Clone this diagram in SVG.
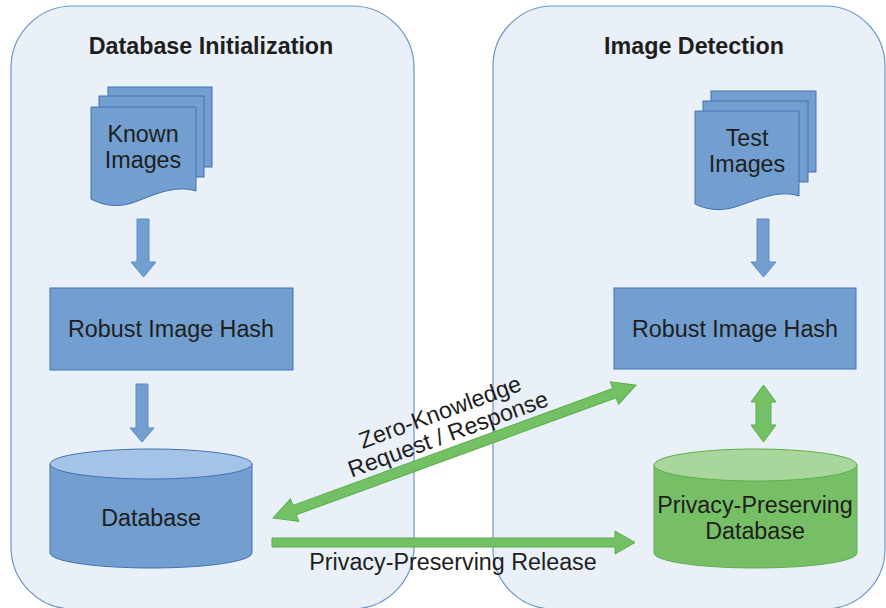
<svg xmlns="http://www.w3.org/2000/svg" width="886" height="608" viewBox="0 0 886 608">
<defs>
<style>
.panel{fill:#eaf0f7;stroke:#6a96cc;stroke-width:1.2}
.title{font-family:"Liberation Sans",Arial,sans-serif;font-size:23.3px;font-weight:bold;fill:#1e1e1e;text-anchor:middle}
.lbl{font-family:"Liberation Sans",Arial,sans-serif;font-size:23.3px;fill:#1e1e1e;text-anchor:middle}
.blue{fill:#729fcf;stroke:#3f72b4;stroke-width:1}
.bluetop{fill:#a5c3e6;stroke:#3f72b4;stroke-width:1}
.green{fill:#77bf66;stroke:#5caf4b;stroke-width:1}
.greentop{fill:#a9d69b;stroke:#5caf4b;stroke-width:1}
.barrow{fill:#729fcf;stroke:#5b8cc6;stroke-width:1}
.garrow{fill:#74c064;stroke:#5aae4a;stroke-width:1}
</style>
</defs>
<rect width="886" height="608" fill="#ffffff"/>
<g id="panel-init">
<rect class="panel" x="11" y="6" width="403" height="603" rx="62" ry="62"/>
<text class="title" x="211" y="54">Database Initialization</text>
</g>
<g id="panel-detect">
<rect class="panel" x="493" y="6" width="392" height="603" rx="60" ry="60"/>
<text class="title" x="694" y="54">Image Detection</text>
</g>
<g id="known-images">
<rect class="blue" x="108" y="87" width="104" height="80"/>
<rect class="blue" x="99" y="96" width="105" height="81"/>
<path class="blue" d="M91,107 H196 V191 C174,184 152,196 132,203 C116,208 102,205 91,199 Z"/>
<text class="lbl" x="143" y="142">Known</text>
<text class="lbl" x="143" y="168">Images</text>
</g>
<g id="test-images">
<rect class="blue" x="711" y="91" width="105" height="81"/>
<rect class="blue" x="703" y="101" width="105" height="81"/>
<path class="blue" d="M695,111 H799 V196 C777,189 755,201 735,207 C719,212 705,209 695,204 Z"/>
<text class="lbl" x="747" y="146">Test</text>
<text class="lbl" x="747" y="172">Images</text>
</g>
<g id="hash-left">
<rect class="blue" x="50" y="288" width="243" height="82"/>
<text class="lbl" x="171" y="337">Robust Image Hash</text>
</g>
<g id="hash-right">
<rect class="blue" x="614" y="288" width="242" height="81"/>
<text class="lbl" x="735" y="337">Robust Image Hash</text>
</g>
<g id="database">
<path class="blue" d="M50,464 V553 A101,15 0 0 0 252,553 V464 Z"/>
<ellipse class="bluetop" cx="151" cy="464" rx="101" ry="15"/>
<text class="lbl" x="151" y="526">Database</text>
</g>
<g id="pp-database">
<path class="green" d="M654,465 V553 A101.5,15 0 0 0 857,553 V465 Z"/>
<ellipse class="greentop" cx="755.5" cy="465" rx="101.5" ry="16"/>
<text class="lbl" x="755" y="513">Privacy-Preserving</text>
<text class="lbl" x="755" y="539">Database</text>
</g>
<g id="connectors">
<polygon class="barrow" points="137,219 149,219 149,262 156,262 143.5,277 131,262 137,262"/>
<polygon class="barrow" points="136,384 148,384 148,428 154,428 142,442 130,428 136,428"/>
<polygon class="barrow" points="757,219 769,219 769,262 776,262 763.5,277 751,262 757,262"/>
<polygon class="garrow" points="763.5,385 776,402 771,402 771,425 776,425 763.5,442 751,425 756,425 756,402 751,402"/>
<polygon class="garrow" points="272,538 615,538 615,531 635,542.5 615,554 615,547 272,547"/>
<polygon class="garrow" transform="translate(273,518) rotate(-20.1)" points="0,0 23,-12 23,-5 363.6,-5 363.6,-12 386.6,0 363.6,12 363.6,5 23,5 23,12"/>
<text class="lbl" transform="rotate(-20.1 440 412)" x="440" y="420">Zero-Knowledge</text>
<text class="lbl" transform="rotate(-20.1 448 434)" x="448" y="442">Request / Response</text>
<text class="lbl" x="453" y="570">Privacy-Preserving Release</text>
</g>
</svg>
